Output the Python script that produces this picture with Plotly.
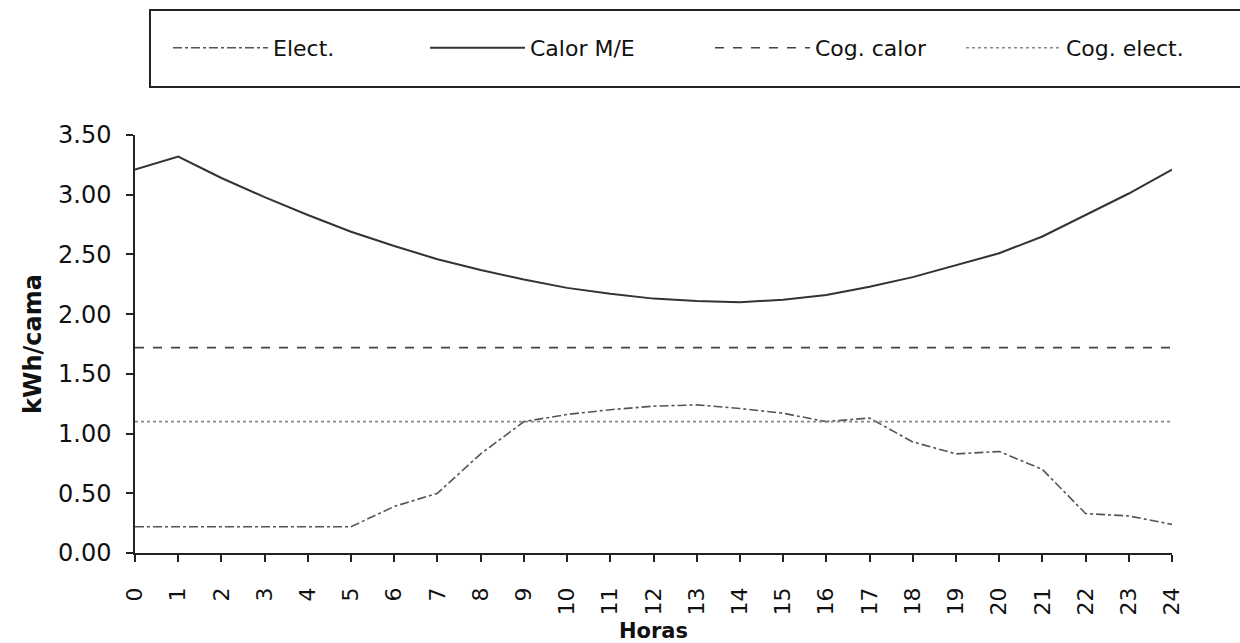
import plotly.graph_objects as go

# Hourly profile (kWh per bed)
horas = list(range(0, 25))
hora_labels = [str(h) for h in horas]

elect = [0.22, 0.22, 0.22, 0.22, 0.22, 0.22, 0.39, 0.50, 0.83, 1.10, 1.16, 1.20, 1.23,
         1.24, 1.21, 1.17, 1.10, 1.13, 0.93, 0.83, 0.85, 0.70, 0.33, 0.31, 0.24]
calor_me = [3.21, 3.32, 3.14, 2.98, 2.83, 2.69, 2.57, 2.46, 2.37, 2.29, 2.22, 2.17, 2.13,
            2.11, 2.10, 2.12, 2.16, 2.23, 2.31, 2.41, 2.51, 2.65, 2.83, 3.01, 3.21]
cog_calor = [1.72] * 25
cog_elect = [1.10] * 25

y_ticks = [0.0, 0.5, 1.0, 1.5, 2.0, 2.5, 3.0, 3.5]

FONT = "DejaVu Sans"

# plot area in pixels (figure 1240 x 643)
L, R, T, B = 135, 1172, 135, 553
W_FIG, H_FIG = 1240, 643

series = [
    ("Elect.", elect, dict(color="#555555", width=1.6, dash="dashdot"), "legend", 170),
    ("Calor M/E", calor_me, dict(color="#333333", width=2.0, dash="solid"), "legend2", 427),
    ("Cog. calor", cog_calor, dict(color="#444444", width=1.6, dash="dash"), "legend3", 712),
    ("Cog. elect.", cog_elect, dict(color="#888888", width=1.6, dash="dot"), "legend4", 963),
]

fig = go.Figure()
for name, vals, line, leg, _ in series:
    fig.add_trace(go.Scatter(x=horas, y=vals, mode="lines", name=name, line=line,
                             legend=leg, showlegend=True))

def px_to_paper_x(px):
    return (px - L) / (R - L)

def px_to_paper_y(py):
    return (B - py) / (B - T)

legend_common = dict(
    orientation="h", bgcolor="rgba(0,0,0,0)", borderwidth=0,
    font=dict(family=FONT, size=22, color="#111111"),
    itemwidth=95, yanchor="middle", y=px_to_paper_y(48), xanchor="left",
)
legends = {}
for name, vals, line, leg, start in series:
    legends[leg] = dict(legend_common, x=px_to_paper_x(start - 2))

fig.update_layout(
    width=W_FIG, height=H_FIG,
    margin=dict(l=L, r=W_FIG - R, t=T, b=H_FIG - B, autoexpand=False),
    paper_bgcolor="white", plot_bgcolor="white",
    font=dict(family=FONT, size=22, color="#111111"),
    **legends,
    shapes=[dict(type="rect", xref="paper", yref="paper",
                 x0=px_to_paper_x(150), x1=px_to_paper_x(1300),
                 y0=px_to_paper_y(87), y1=px_to_paper_y(10),
                 line=dict(color="#222222", width=2), fillcolor="rgba(0,0,0,0)")],
)

fig.update_xaxes(
    range=[0, 24], tickmode="array", tickvals=horas, ticktext=hora_labels,
    tickangle=-90, ticks="outside", ticklen=7, tickwidth=1.5, tickcolor="#222222",
    showline=True, linecolor="#222222", linewidth=1.5, showgrid=False, zeroline=False,
    tickfont=dict(family=FONT, size=22, color="#111111"), ticklabelstandoff=17,
    automargin=False,
    title=dict(text="<b>Horas</b>", font=dict(family=FONT, size=21, color="#111111"),
               standoff=10),
)
fig.update_yaxes(
    range=[0, 3.5], tickmode="array", tickvals=y_ticks,
    ticktext=[f"{v:.2f}" for v in y_ticks],
    ticks="outside", ticklen=7, tickwidth=1.5, tickcolor="#222222",
    showline=True, linecolor="#222222", linewidth=1.5, showgrid=False, zeroline=False,
    tickfont=dict(family=FONT, size=24, color="#111111"), ticklabelstandoff=10,
    automargin=False,
    title=dict(text="<b>kWh/cama</b>", font=dict(family=FONT, size=24, color="#111111"),
               standoff=10),
)

fig.write_html("out.html")
